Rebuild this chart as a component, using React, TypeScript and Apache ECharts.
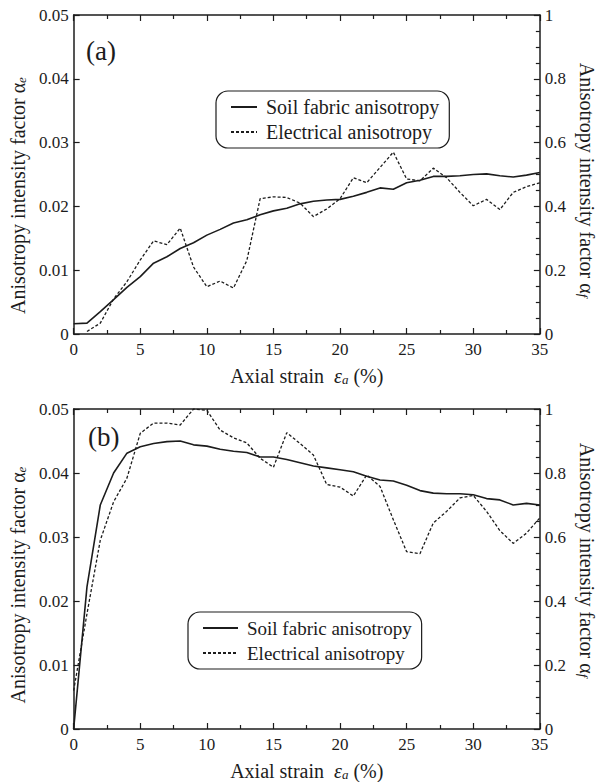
import React, { useEffect, useRef } from 'react';
import * as echarts from 'echarts';

const strain = [0, 1, 2, 3, 4, 5, 6, 7, 8, 9, 10, 11, 12, 13, 14, 15, 16, 17, 18, 19, 20, 21, 22, 23, 24, 25, 26, 27, 28, 29, 30, 31, 32, 33, 34, 35];

// (a) soil fabric anisotropy, alpha_f (right axis)
const fabricA = [0.032, 0.034, 0.07, 0.108, 0.146, 0.18, 0.222, 0.242, 0.268, 0.286, 0.31, 0.328, 0.348, 0.358, 0.374, 0.386, 0.394, 0.408, 0.416, 0.42, 0.422, 0.432, 0.444, 0.458, 0.454, 0.474, 0.482, 0.494, 0.494, 0.496, 0.5, 0.502, 0.496, 0.492, 0.498, 0.506];
// (a) electrical anisotropy, alpha_e (left axis)
const electricalA = [null, 0.0004, 0.0017, 0.0055, 0.0082, 0.0116, 0.0146, 0.014, 0.0166, 0.0105, 0.0074, 0.0083, 0.0072, 0.0115, 0.0212, 0.0215, 0.0214, 0.0205, 0.0184, 0.0196, 0.0212, 0.0245, 0.0237, 0.0261, 0.0285, 0.0243, 0.024, 0.026, 0.0245, 0.0222, 0.0201, 0.0211, 0.0195, 0.0222, 0.0231, 0.0237];
// (b) soil fabric anisotropy, alpha_f (right axis)
const fabricB = [0, 0.444, 0.70, 0.80, 0.862, 0.882, 0.892, 0.898, 0.90, 0.888, 0.884, 0.874, 0.868, 0.864, 0.85, 0.85, 0.842, 0.832, 0.822, 0.816, 0.81, 0.804, 0.79, 0.778, 0.775, 0.762, 0.745, 0.737, 0.735, 0.735, 0.732, 0.72, 0.716, 0.70, 0.705, 0.70];
// (b) electrical anisotropy, alpha_e (left axis)
const electricalB = [0.006, 0.018, 0.0295, 0.0355, 0.0392, 0.0462, 0.0478, 0.0478, 0.0475, 0.05, 0.0498, 0.0467, 0.0455, 0.0447, 0.0423, 0.0409, 0.0463, 0.0446, 0.0428, 0.0382, 0.0378, 0.0364, 0.0397, 0.0379, 0.0327, 0.0277, 0.0274, 0.0322, 0.034, 0.0361, 0.0365, 0.034, 0.031, 0.029, 0.0306, 0.033];

const seriesNames = ['Soil fabric anisotropy', 'Electrical anisotropy'];
const panelLabels = ['(a)', '(b)'];

const FONT = 'Liberation Serif';
const INK = '#1c1c1c';

const pairs = (vals: (number | null)[]) =>
  strain.map((x, i) => [x, vals[i]]).filter((p) => p[1] !== null);

const xTitle = '{t|Axial strain  }{g|ε}{s|a}{t| (%)}';
const titleRich = (fs: number) => ({
  t: { fontFamily: FONT, fontSize: fs, color: INK, lineHeight: 22 },
  g: { fontFamily: FONT, fontSize: fs, color: INK, fontStyle: 'italic', lineHeight: 22 },
  s: { fontFamily: FONT, fontSize: 13, color: INK, fontStyle: 'italic', lineHeight: 22, padding: [7, 0, 0, 0] },
});

const tickLabel = { fontFamily: FONT, fontSize: 17, color: INK, lineHeight: 14 };

function xAxis(gridIndex: number, position: 'bottom' | 'top', labels: boolean) {
  return {
    type: 'value',
    gridIndex,
    position,
    min: 0,
    max: 35,
    interval: 5,
    axisLine: { onZero: false, lineStyle: { color: INK, width: 1.5 } },
    axisTick: { show: true, inside: true, length: 6, lineStyle: { color: INK, width: 1.2 } },
    minorTick: { show: true, splitNumber: 2, length: 4, lineStyle: { color: INK, width: 1.2 } },
    splitLine: { show: false },
    axisLabel: { show: labels, ...tickLabel, margin: 8 },
    name: labels ? xTitle : '',
    nameLocation: 'middle',
    nameGap: 31,
    nameTextStyle: { fontFamily: FONT, rich: titleRich(20) },
  };
}

function yLeft(gridIndex: number, shiftPad: number) {
  return {
    type: 'value',
    gridIndex,
    position: 'left',
    min: 0,
    max: 0.05,
    interval: 0.01,
    axisLine: { onZero: false, lineStyle: { color: INK, width: 1.5 } },
    axisTick: { show: true, inside: true, length: 6, lineStyle: { color: INK, width: 1.2 } },
    splitLine: { show: false },
    axisLabel: { ...tickLabel, margin: 5 },
    name: '{t|Anisotropy intensity factor α}{s|e}',
    nameLocation: 'middle',
    nameGap: 38,
    nameTextStyle: { fontFamily: FONT, rich: titleRich(20), padding: [0, shiftPad, 0, 0] },
  };
}

function yRight(gridIndex: number, pad: number[]) {
  return {
    type: 'value',
    gridIndex,
    position: 'right',
    min: 0,
    max: 1,
    interval: 0.2,
    axisLine: { onZero: false, lineStyle: { color: INK, width: 1.5 } },
    axisTick: { show: true, inside: true, length: 6, lineStyle: { color: INK, width: 1.2 } },
    minorTick: { show: true, splitNumber: 4, length: 4, lineStyle: { color: INK, width: 1.2 } },
    splitLine: { show: false },
    axisLabel: { ...tickLabel, margin: 5 },
    name: '{t|Anisotropy intensity factor α}{s|f}',
    nameLocation: 'middle',
    nameRotate: -90,
    nameGap: 30,
    nameTextStyle: { fontFamily: FONT, rich: titleRich(20), padding: pad },
  };
}

function legend(left: number, top: number, itemWidth: number, fontSize: number) {
  return {
    show: true,
    orient: 'vertical',
    left,
    top,
    data: seriesNames,
    itemWidth,
    itemHeight: 12,
    itemGap: 3,
    padding: [5, 10, 5, 14],
    borderColor: INK,
    borderWidth: 1.2,
    borderRadius: 12,
    backgroundColor: '#ffffff',
    itemStyle: { color: 'rgba(0,0,0,0)', borderWidth: 0, opacity: 0 },
    textStyle: { fontFamily: FONT, fontSize, color: INK, lineHeight: 22, padding: [0, 0, 0, 4] },
    selectedMode: false,
  };
}

function line(name: string, xi: number, yi: number, vals: (number | null)[], dashed: boolean) {
  return {
    type: 'line',
    name,
    xAxisIndex: xi,
    yAxisIndex: yi,
    data: pairs(vals),
    symbol: 'none',
    showSymbol: false,
    color: INK,
    lineStyle: dashed ? { color: INK, width: 1.3, type: [3, 2] } : { color: INK, width: 1.6 },
    z: dashed ? 3 : 4,
  };
}

export default function App() {
  const ref = useRef<HTMLDivElement>(null);
  useEffect(() => {
    document.body.style.margin = '0';
    document.body.style.overflow = 'hidden';
    const chart = echarts.init(ref.current!, null, { renderer: 'svg' });
    chart.setOption({
      animation: false,
      backgroundColor: '#ffffff',
      textStyle: { fontFamily: FONT, color: INK },
      grid: [
        { left: 68, top: 15, width: 489, height: 319 },
        { left: 70, top: 409, width: 488, height: 320 },
      ],
      xAxis: [xAxis(0, 'bottom', true), xAxis(0, 'top', false), xAxis(1, 'bottom', true), xAxis(1, 'top', false)],
      yAxis: [yLeft(0, 42), yRight(0, [0, 0, 0, 11]), yLeft(1, 32), yRight(1, [0, 18, 0, 0])],
      legend: [legend(216, 91, 26, 20), legend(188, 612, 35, 19)],
      graphic: [
        { type: 'text', left: 86, top: 37, style: { text: panelLabels[0], fontFamily: FONT, fontSize: 27, fill: INK } },
        { type: 'text', left: 88, top: 423, style: { text: panelLabels[1], fontFamily: FONT, fontSize: 27, fill: INK } },
      ],
      series: [
        line(seriesNames[0], 0, 1, fabricA, false),
        line(seriesNames[1], 0, 0, electricalA, true),
        line(seriesNames[0], 2, 3, fabricB, false),
        line(seriesNames[1], 2, 2, electricalB, true),
      ],
    });
    return () => chart.dispose();
  }, []);
  return <div ref={ref} style={{ width: 605, height: 782 }} />;
}
